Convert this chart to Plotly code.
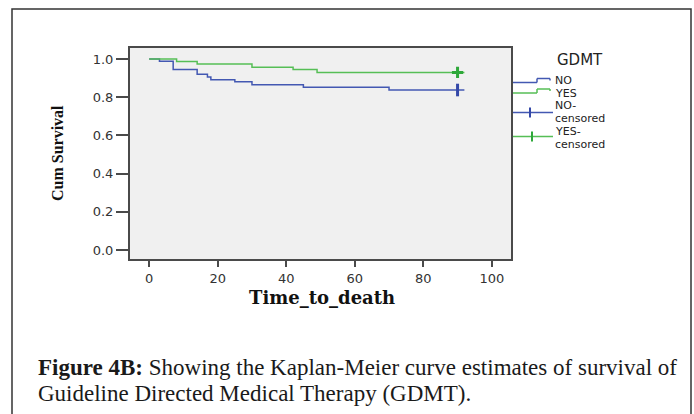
import plotly.graph_objects as go

# ---- data ----
no_time = [0, 3, 7, 14, 17, 18, 25, 30, 45, 70, 92]
no_surv = [1.0, 0.989, 0.946, 0.920, 0.906, 0.892, 0.881, 0.866, 0.852, 0.838, 0.838]
yes_time = [0, 8, 14, 30, 42, 49, 92]
yes_surv = [1.0, 0.987, 0.974, 0.957, 0.945, 0.930, 0.930]
no_cens_time = [90]
no_cens_surv = [0.838]
yes_cens_time = [90]
yes_cens_surv = [0.930]

x_ticks = [0, 20, 40, 60, 80, 100]
y_ticks = [0.0, 0.2, 0.4, 0.6, 0.8, 1.0]

BLUE = "#4358b2"
GREEN = "#56be56"
BLUE_D = "#3448a8"
GREEN_D = "#2ea83a"
AX = "#4a4a4a"

W, H = 694, 414
L, R, T, B = 130, 511, 48, 259


def xp(px):
    return (px - L) / (R - L)


def yp(py):
    return (B - py) / (B - T)


fig = go.Figure()
fig.add_trace(go.Scatter(x=no_time, y=no_surv, mode="lines",
                         line=dict(shape="hv", color=BLUE, width=1.5), showlegend=False))
fig.add_trace(go.Scatter(x=yes_time, y=yes_surv, mode="lines",
                         line=dict(shape="hv", color=GREEN, width=1.5), showlegend=False))
fig.add_trace(go.Scatter(x=no_cens_time, y=no_cens_surv, mode="markers",
                         marker=dict(symbol="line-ns", size=9, line=dict(color=BLUE_D, width=3)),
                         showlegend=False))
fig.add_trace(go.Scatter(x=yes_cens_time, y=yes_cens_surv, mode="markers",
                         marker=dict(symbol="cross-thin", size=8, line=dict(color=GREEN_D, width=3)),
                         showlegend=False))

tickfont = dict(family="DejaVu Sans", size=13, color="#333333")
fig.update_layout(
    width=W, height=H,
    margin=dict(l=L, r=W - R, t=T, b=H - B, pad=0),
    paper_bgcolor="white", plot_bgcolor="#f0f0f0",
    xaxis=dict(range=[-5.6, 105.6], tickvals=x_ticks, ticktext=[str(v) for v in x_ticks],
               showgrid=False, zeroline=False, showline=True, mirror=True,
               linecolor=AX, linewidth=2, ticks="outside", ticklen=6, tickwidth=2,
               tickcolor=AX, tickfont=tickfont),
    yaxis=dict(range=[-0.047, 1.058], tickvals=y_ticks, ticktext=[f"{v:.1f}" for v in y_ticks],
               showgrid=False, zeroline=False, showline=True, mirror=True,
               linecolor=AX, linewidth=2, ticks="outside", ticklen=12, tickwidth=2,
               tickcolor=AX, tickfont=tickfont),
)

shapes = []
# outer frame of the figure
shapes.append(dict(type="rect", xref="paper", yref="paper",
                   x0=xp(12), x1=xp(691), y0=yp(440), y1=yp(9),
                   line=dict(color="#333333", width=1.5), layer="above"))

# legend glyphs
def step_glyph(y_low, y_high, color):
    pts = [(513, y_low), (537, y_low), (537, y_high), (550, y_high), (550, y_high + 2)]
    for (a, b), (c, d) in zip(pts[:-1], pts[1:]):
        shapes.append(dict(type="line", xref="paper", yref="paper",
                           x0=xp(a), y0=yp(b), x1=xp(c), y1=yp(d),
                           line=dict(color=color, width=1.5)))


def cens_glyph(y, xt, color, dark):
    shapes.append(dict(type="line", xref="paper", yref="paper",
                       x0=xp(513), y0=yp(y), x1=xp(553), y1=yp(y),
                       line=dict(color=color, width=1.5)))
    shapes.append(dict(type="line", xref="paper", yref="paper",
                       x0=xp(xt), y0=yp(y - 5), x1=xp(xt), y1=yp(y + 5),
                       line=dict(color=dark, width=2)))


step_glyph(82.5, 78.5, BLUE)
step_glyph(93, 89, GREEN)
cens_glyph(112.5, 530, BLUE, BLUE_D)
cens_glyph(136.5, 532, GREEN, GREEN_D)
fig.update_layout(shapes=shapes)

ann = []


def text(px, py, s, size, family="DejaVu Sans", xanchor="left", angle=0, color="#222222"):
    ann.append(dict(x=xp(px), y=yp(py), xref="paper", yref="paper", text=s,
                    showarrow=False, xanchor=xanchor, yanchor="middle", textangle=angle,
                    align="left", font=dict(family=family, size=size, color=color)))


text(580, 60, "GDMT", 15, xanchor="center")
lf = 11
text(553, 80.5, "NO", lf)
text(553, 93.5, "YES", lf)
text(553, 105, "NO-", lf)
text(553, 118, "censored", lf)
text(553, 131, "YES-", lf)
text(553, 144, "censored", lf)

text(57, 153, "<b>Cum Survival</b>", 16, family="Liberation Serif", xanchor="center", angle=-90,
     color="#111111")
text(322, 297, "<b>Time_to_death</b>", 18, family="DejaVu Serif", xanchor="center", color="#111111")

text(36, 367, "<b>Figure 4B:</b> Showing the Kaplan-Meier curve estimates of survival of", 23,
     family="Liberation Serif", color="#1a1a1a")
text(36, 393, "Guideline Directed Medical Therapy (GDMT).", 23,
     family="Liberation Serif", color="#1a1a1a")

fig.update_layout(annotations=ann)
fig.write_html("out.html")
